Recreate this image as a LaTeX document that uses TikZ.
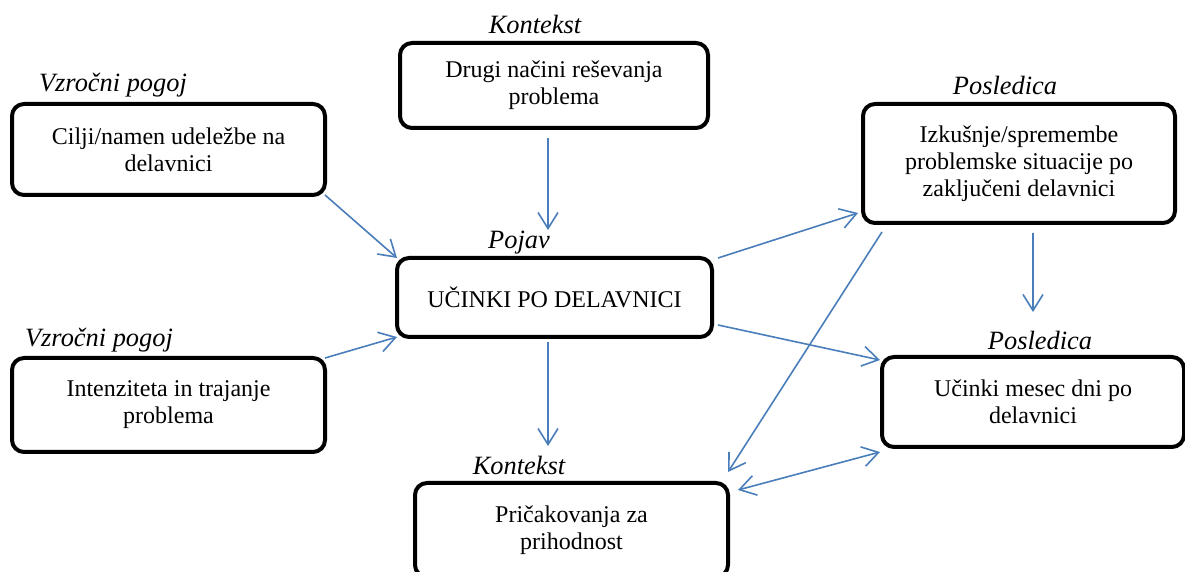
\documentclass[tikz,border=0pt]{standalone}
\usepackage{fontspec}
\setmainfont{Liberation Serif}
\usetikzlibrary{arrows.meta}
\definecolor{puscmodra}{HTML}{4A7EBB}
\begin{document}
\begin{tikzpicture}[x=0.5pt,y=-0.5pt,
	okvir/.style={draw=black,line width=2pt,rounded corners=6pt,align=center,inner sep=2pt,outer sep=0pt,font=\fontsize{12}{13.5}\selectfont},
	oznaka/.style={font=\fontsize{13.2}{15}\selectfont\itshape,inner sep=0pt},
	puscica/.style={draw=puscmodra,line width=0.8pt,-{Straight Barb[length=8pt,width=10pt]}}]
		\useasboundingbox (0,0) rectangle (1185,572);
		\node[okvir,minimum width=154pt,minimum height=42.5pt] (drugi) at (554,85.5) {Drugi načini reševanja\\problema};
		\node[okvir,minimum width=156.5pt,minimum height=45.5pt] (cilji) at (168.5,149.5) {Cilji/namen udeležbe na\\delavnici};
		\node[okvir,minimum width=157.5pt,minimum height=39.5pt] (pojav) at (554.5,297.5) {UČINKI PO DELAVNICI};
		\node[okvir,minimum width=156.5pt,minimum height=47pt] (intenz) at (168.5,405) {Intenziteta in trajanje\\problema};
		\node[okvir,minimum width=156pt,minimum height=59.5pt] (izk) at (1019,163.5) {Izkušnje/spremembe\\problemske situacije po\\zaključeni delavnici};
		\node[okvir,minimum width=151pt,minimum height=45pt] (ucinki) at (1033,402) {Učinki mesec dni po\\delavnici};
		\node[okvir,minimum width=156.5pt,minimum height=47pt] (prick) at (571.5,530) {Pričakovanja za\\prihodnost};
		\node[oznaka] (k1) at (535,24) {Kontekst};
		\node[oznaka] (v1) at (113,85) {Vzročni pogoj};
		\node[oznaka] (p1) at (1005,85) {Posledica};
		\node[oznaka] (pj) at (519,243) {Pojav};
		\node[oznaka] (v2) at (99,340) {Vzročni pogoj};
		\node[oznaka] (p2) at (1040,340) {Posledica};
		\node[oznaka] (k2) at (519,465) {Kontekst};
		\draw[puscica,shorten <=5pt,shorten >=14pt] ([xshift=-3pt]drugi.south) -- ([xshift=-3pt]drugi.south |- pojav.north);
		\draw[puscica] (cilji.south east) -- (pojav.north west);
		\draw[puscica] (intenz.north east) -- (pojav.south west);
		\draw[puscica] ([xshift=3pt]pojav.north east) -- ([xshift=-2.5pt,yshift=5pt]izk.south west);
		\draw[puscica] ([xshift=3pt,yshift=6pt]pojav.south east) -- ([xshift=-1pt,yshift=-1.5pt]ucinki.north west);
		\draw[puscica,shorten <=2.5pt,shorten >=18.5pt] ([xshift=-3.25pt]pojav.south) -- ([xshift=-3.25pt]pojav.south |- prick.north);
		\draw[puscica,shorten <=5pt,shorten >=22.5pt] (izk.south -| ucinki.north) -- (ucinki.north);
		\draw[puscica] ([xshift=9.5pt,yshift=-4.5pt]izk.south west) -- ([yshift=5.5pt]prick.north east);
		\draw[puscica,{Straight Barb[length=8pt,width=10pt]}-{Straight Barb[length=8pt,width=10pt]}] ([xshift=5pt,yshift=-3.5pt]prick.north east) -- ([xshift=-1pt,yshift=-2.5pt]ucinki.south west);
	\end{tikzpicture}
\end{document}
